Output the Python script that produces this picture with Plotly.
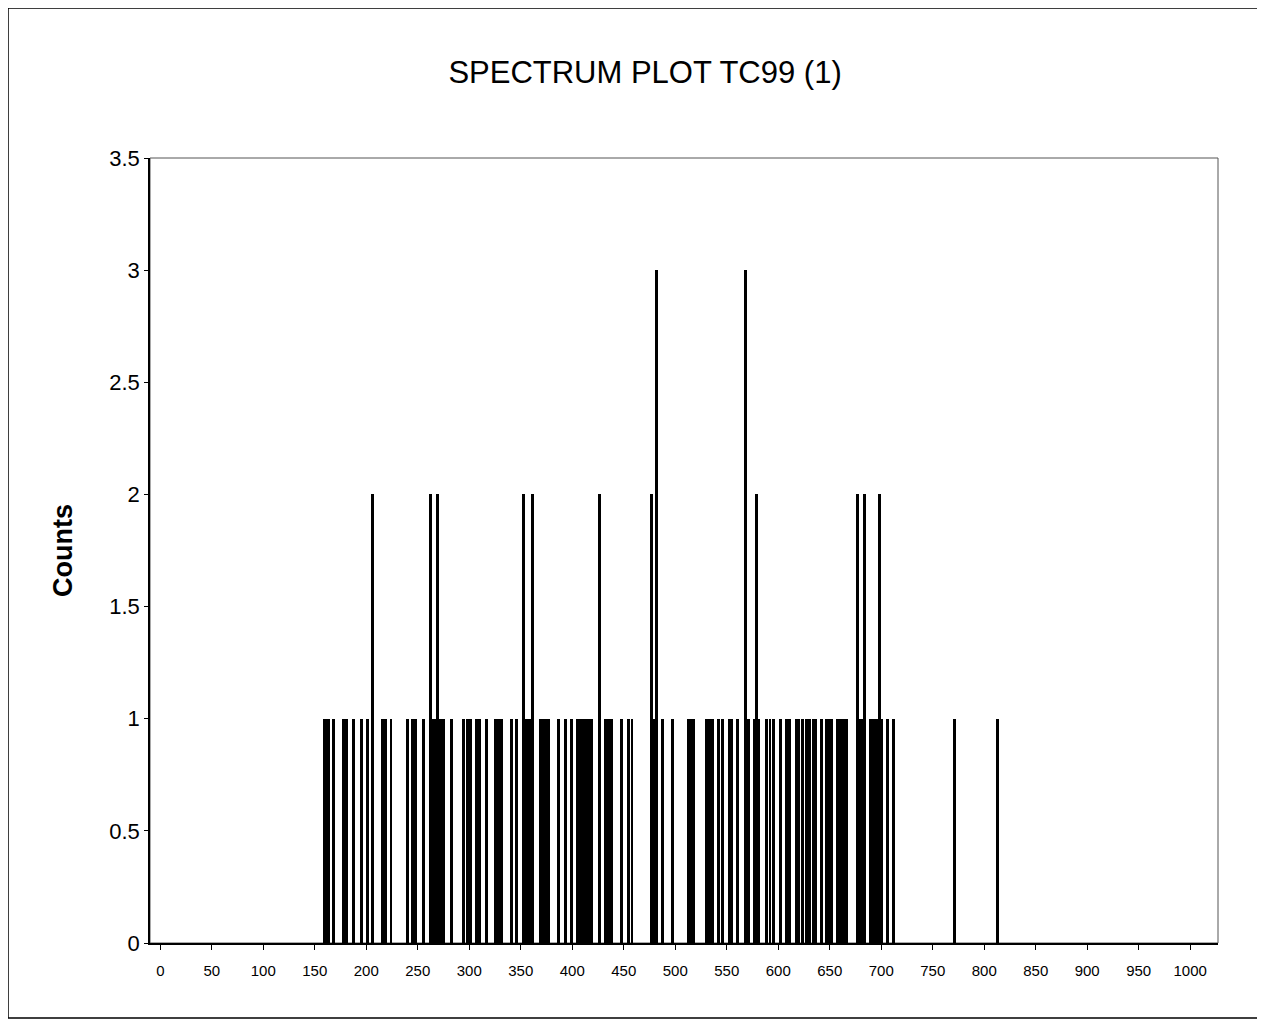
import plotly.graph_objects as go

# Channel numbers (x) with non-zero counts
channels = [159, 161, 163, 168, 178, 181, 188, 195, 201, 206, 216, 219, 224, 240, 245, 248,
            256, 262, 265, 267, 269, 271, 273, 275, 283, 294, 298, 301, 307, 310, 317, 325,
            328, 331, 341, 346, 353, 355, 357, 359, 361, 369, 371, 373, 375, 377, 387, 393,
            399, 405, 407, 409, 411, 413, 415, 417, 419, 426, 432, 435, 438, 448, 455, 458,
            477, 479, 482, 488, 497, 513, 516, 518, 530, 533, 536, 542, 546, 553, 555, 560,
            568, 571, 577, 579, 581, 589, 592, 595, 602, 608, 611, 618, 620, 624, 627, 630,
            634, 636, 642, 647, 650, 652, 658, 660, 662, 664, 666, 677, 680, 682, 684, 690,
            692, 694, 696, 698, 700, 706, 712, 771, 813]
counts = [1, 1, 1, 1, 1, 1, 1, 1, 1, 2, 1, 1, 1, 1, 1, 1,
          1, 2, 1, 1, 2, 1, 1, 1, 1, 1, 1, 1, 1, 1, 1, 1,
          1, 1, 1, 1, 2, 1, 1, 1, 2, 1, 1, 1, 1, 1, 1, 1,
          1, 1, 1, 1, 1, 1, 1, 1, 1, 2, 1, 1, 1, 1, 1, 1,
          2, 1, 3, 1, 1, 1, 1, 1, 1, 1, 1, 1, 1, 1, 1, 1,
          3, 1, 1, 2, 1, 1, 1, 1, 1, 1, 1, 1, 1, 1, 1, 1,
          1, 1, 1, 1, 1, 1, 1, 1, 1, 1, 1, 2, 1, 1, 2, 1,
          1, 1, 1, 2, 1, 1, 1, 1, 1]

x_ticks = list(range(0, 1001, 50))
y_ticks = [0, 0.5, 1, 1.5, 2, 2.5, 3, 3.5]
y_tick_text = ["0", "0.5", "1", "1.5", "2", "2.5", "3", "3.5"]

fig = go.Figure()
fig.add_trace(go.Bar(
    x=channels, y=counts, width=2.9,
    marker=dict(color="black", line=dict(width=0)),
    showlegend=False,
))

font_family = "Liberation Sans, Arial, sans-serif"

fig.update_layout(
    width=1265, height=1020,
    paper_bgcolor="white", plot_bgcolor="white",
    margin=dict(l=142, r=55, t=150, b=85),
    title=dict(text="SPECTRUM PLOT TC99 (1)", x=0.5036, xanchor="center", xref="container",
               y=0.937, yanchor="middle", yref="container",
               font=dict(family=font_family, size=31, color="black")),
    font=dict(family=font_family, color="black"),
    xaxis=dict(range=[-10, 1027], tickmode="array", tickvals=x_ticks,
               ticks="outside", ticklen=5, tickcolor="black", showgrid=False, zeroline=False,
               showline=True, linecolor="black", linewidth=1.5, mirror=False,
               tickfont=dict(size=15, family=font_family), ticklabelstandoff=8),
    yaxis=dict(range=[0, 3.5], tickmode="array", tickvals=y_ticks, ticktext=y_tick_text,
               ticks="outside", ticklen=4, tickcolor="black", showgrid=False, zeroline=False,
               showline=True, linecolor="black", linewidth=1.5,
               tickfont=dict(size=22, family=font_family), ticklabelstandoff=0),
    bargap=0,
)

fig.add_annotation(text="<b>Counts</b>", xref="paper", yref="paper",
                   x=-0.0815, y=0.5006, xanchor="center", yanchor="middle",
                   textangle=-90, showarrow=False,
                   font=dict(size=27, family=font_family, color="black"))

# thin frame on top/right of plot area
fig.add_shape(type="rect", xref="paper", yref="paper", x0=0, x1=1, y0=0, y1=1,
              line=dict(color="#555555", width=1), layer="below")
# outer chart border
fig.add_shape(type="rect", xref="paper", yref="paper",
              x0=-142 / 1068, x1=(1250 - 142) / 1068, y0=-75 / 785, y1=1 + 150 / 785,
              line=dict(color="black", width=1.5))

fig.write_html("out.html")
